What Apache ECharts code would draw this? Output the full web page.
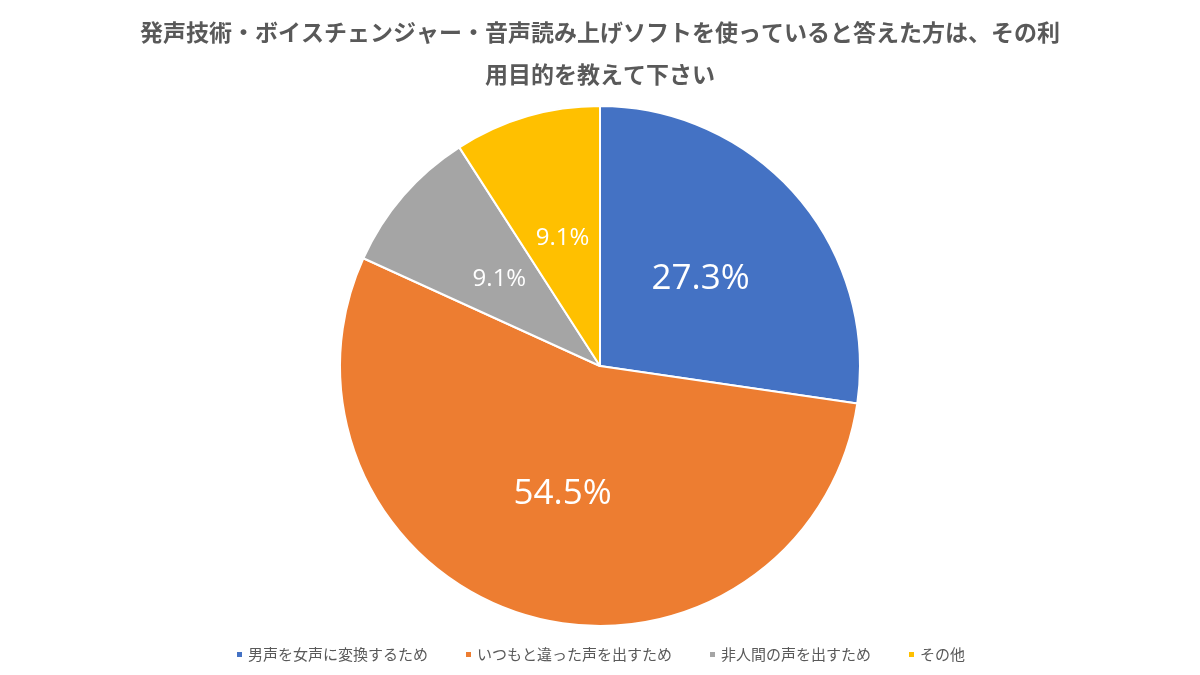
<!DOCTYPE html>
<html>
<head>
<meta charset="utf-8">
<script src="https://cdn.jsdelivr.net/npm/echarts@6/dist/echarts.min.js"></script>
<style>
html, body { margin: 0; padding: 0; background: #fff; }
#main { width: 1200px; height: 675px; }
</style>
</head>
<body>
<div id="main"></div>
<script>
var categories = ['男声を女声に変換するため', 'いつもと違った声を出すため', '非人間の声を出すため', 'その他'];
var values = [27.3, 54.5, 9.1, 9.1];
var colors = ['#4472C4', '#ED7D31', '#A5A5A5', '#FFC000'];
var labelSizes = [35, 35, 24, 24];

var chart = echarts.init(document.getElementById('main'), null, {renderer: 'canvas'});

var data = categories.map(function (name, i) {
    return {
        name: name,
        value: values[i],
        itemStyle: {color: colors[i]},
        label: {fontSize: labelSizes[i]}
    };
});

var option = {
    animation: false,
    title: {
        text: '発声技術・ボイスチェンジャー・音声読み上げソフトを使っていると答えた方は、その利\n用目的を教えて下さい',
        left: 'center',
        top: 6,
        textStyle: {
            fontFamily: 'Noto Sans CJK JP',
            fontSize: 23,
            fontWeight: 'bold',
            color: '#595959',
            lineHeight: 42
        }
    },
    legend: {
        bottom: 8,
        left: 'center',
        icon: 'rect',
        itemWidth: 7,
        itemHeight: 7,
        itemGap: 36,
        textStyle: {
            fontFamily: 'Noto Sans CJK JP',
            fontSize: 15,
            color: '#595959'
        },
        data: categories
    },
    series: [{
        type: 'pie',
        center: [600, 366],
        radius: [0, 260],
        startAngle: 90,
        clockwise: true,
        data: data,
        itemStyle: {borderColor: '#fff', borderWidth: 2},
        label: {
            show: true,
            position: 'inside',
            color: '#fff',
            fontFamily: 'Open Sans',
            formatter: function (p) { return p.value.toFixed(1) + '%'; }
        },
        labelLine: {show: false},
        emphasis: {disabled: true}
    }]
};

chart.setOption(option);
</script>
</body>
</html>
